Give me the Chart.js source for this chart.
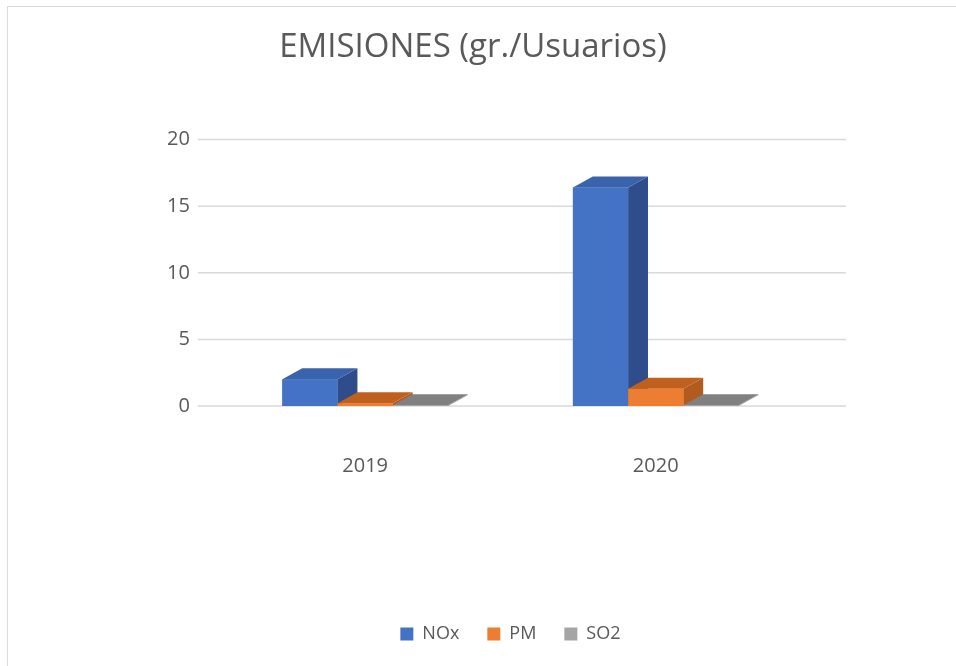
<!DOCTYPE html>
<html>
<head>
<meta charset="utf-8">
<script src="https://cdn.jsdelivr.net/npm/chart.js@4/dist/chart.umd.min.js"></script>
<style>
  html, body { margin: 0; padding: 0; background: #fff; }
  #frame {
    position: absolute; left: 7px; top: 6px;
    width: 960px; height: 670px;
    border: 1px solid #d9d9d9; box-sizing: border-box;
  }
  #wrap { position: absolute; left: 0; top: 0; width: 956px; height: 666px; }
</style>
</head>
<body>
<div id="frame"></div>
<div id="wrap"><canvas id="emisionesChart"></canvas></div>
<script>
// datos del grafico
const years = ['2019', '2020'];
const noxValues = [2.0, 16.4];
const pmValues = [0.2, 1.3];
const so2Values = [0.05, 0.05];
const yTicks = [0, 5, 10, 15, 20];

// colores: frente, techo, lateral
const seriesColors = [
    { front: '#4472C4', top: '#3A63AD', side: '#2E4D8A' },
    { front: '#ED7D31', top: '#C0601F', side: '#B35A1E' },
    { front: '#A5A5A5', top: '#808080', side: '#8A8A8A' }
];

const fontFamily = "'Open Sans', 'Noto Sans', sans-serif";
const textColor = '#595959';

// lineas de la grilla un poco mas anchas que el area del grafico
const wideGrid = {
    id: 'wideGrid',
    beforeDatasetsDraw(chart) {
        const ctx = chart.ctx;
        const y = chart.scales.y;
        const area = chart.chartArea;
        ctx.save();
        ctx.strokeStyle = '#d9d9d9';
        ctx.lineWidth = 1.5;
        yTicks.forEach(v => {
            const py = y.getPixelForValue(v);
            ctx.beginPath();
            ctx.moveTo(area.left - 22, py);
            ctx.lineTo(area.right + 45, py);
            ctx.stroke();
        });
        ctx.restore();
    }
};

// dibuja techo y lateral para dar efecto 3D
const bars3d = {
    id: 'bars3d',
    afterDatasetsDraw(chart) {
        const ctx = chart.ctx;
        ctx.save();
        chart.data.datasets.forEach((ds, i) => {
            const meta = chart.getDatasetMeta(i);
            const c = seriesColors[i];
            meta.data.forEach(bar => {
                const half = bar.width / 2;
                const left = bar.x - half, right = bar.x + half;
                const top = bar.y, base = bar.base;
                const dx = bar.width * 0.36, dy = bar.width * 0.2;
                // lateral
                ctx.fillStyle = c.side;
                ctx.beginPath();
                ctx.moveTo(right, top);
                ctx.lineTo(right + dx, top - dy);
                ctx.lineTo(right + dx, base - dy);
                ctx.lineTo(right, base);
                ctx.closePath();
                ctx.fill();
                // techo
                ctx.fillStyle = c.top;
                ctx.beginPath();
                ctx.moveTo(left, top);
                ctx.lineTo(left + dx, top - dy);
                ctx.lineTo(right + dx, top - dy);
                ctx.lineTo(right, top);
                ctx.closePath();
                ctx.fill();
                // frente
                ctx.fillStyle = c.front;
                ctx.fillRect(left, top, right - left, base - top);
            });
        });
        ctx.restore();
    }
};

const ctx = document.getElementById('emisionesChart').getContext('2d');
new Chart(ctx, {
    type: 'bar',
    data: {
        labels: years,
        datasets: [
            { label: 'NOx', data: noxValues, backgroundColor: seriesColors[0].front },
            { label: 'PM', data: pmValues, backgroundColor: seriesColors[1].front },
            { label: 'SO2', data: so2Values, backgroundColor: seriesColors[2].front }
        ]
    },
    options: {
        responsive: true,
        maintainAspectRatio: false,
        animation: false,
        events: [],
        layout: { padding: { left: 145, right: 155, top: 0, bottom: 13 } },
        datasets: {
            bar: { categoryPercentage: 0.57, barPercentage: 1.0 }
        },
        scales: {
            x: {
                grid: { display: false },
                border: { display: false },
                ticks: { color: textColor, font: { family: fontFamily, size: 20 }, padding: 40 },
                afterFit: scale => { scale.height = 191; }
            },
            y: {
                min: 0,
                max: 20,
                afterBuildTicks: axis => { axis.ticks = yTicks.map(v => ({ value: v })); },
                grid: { display: false },
                border: { display: false },
                ticks: { color: textColor, font: { family: fontFamily, size: 20 }, padding: 22 }
            }
        },
        plugins: {
            title: {
                display: true,
                text: 'EMISIONES (gr./Usuarios)',
                color: textColor,
                font: { family: fontFamily, size: 33, weight: 'normal' },
                padding: { top: 28, bottom: 72 }
            },
            legend: {
                position: 'bottom',
                fullSize: false,
                labels: {
                    color: textColor,
                    font: { family: fontFamily, size: 18 },
                    boxWidth: 13,
                    boxHeight: 13,
                    padding: 28
                }
            },
            tooltip: { enabled: false }
        }
    },
    plugins: [wideGrid, bars3d]
});
</script>
</body>
</html>
